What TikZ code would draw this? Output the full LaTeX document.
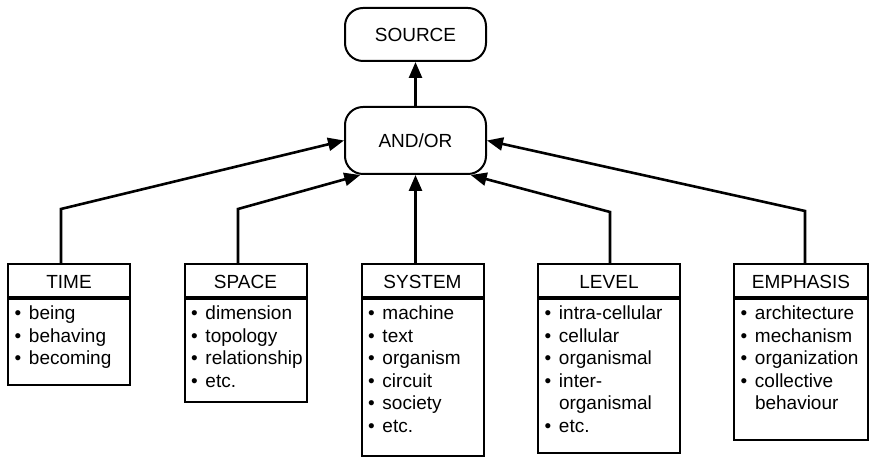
\documentclass[tikz,border=0pt]{standalone}
\usepackage{fontspec}
\setmainfont{Liberation Sans}
\usetikzlibrary{positioning, arrows.meta}

%Aufzählungspunkt mit hängendem Einzug
\newcommand{\punkt}[1]{\hyphenpenalty=10000\relax\hangindent=7.15pt\hangafter=1\noindent\makebox[7.15pt][l]{\textbullet}#1\par}

\begin{document}
\begin{tikzpicture}
	[
	x=0.5pt, y=-0.5pt, font=\fontsize{9.5pt}{11.25pt}\selectfont, >={Triangle[length=8pt, width=6.5pt]},
	%Voreinstellungen für Kästen und Pfeile
	oval/.style={draw, line width=1pt, rounded corners=9pt, minimum width=70.5pt, inner sep=0pt},
	kopf/.style={draw, line width=1pt, minimum height=16.5pt, inner sep=0pt, text height=8.3pt, text depth=0pt},
	liste/.style={draw, line width=1pt, inner xsep=3.35pt, inner ysep=2.6pt, align=left, text height=7.9pt},
	pfeil/.style={->, line width=1.3pt}
	]
	\useasboundingbox (0,0) rectangle (869,458);
	%Oben
	\node[oval, minimum height=26.5pt] (source) at (415.5,34.5) {SOURCE};
	\node[oval, minimum height=33.5pt] (andor) at (415.5,140.5) {AND/OR};
	%Kästen unten
	\node[kopf, minimum width=61pt] (timehead) at (69,280.5) {TIME};
	\node[liste, text width=54.3pt, text depth=29.9pt, below=0pt of timehead] (timebody)
		{\punkt{being}\punkt{behaving}\punkt{becoming}};
	\node[kopf, minimum width=61pt] (spacehead) at (245.5,280.5) {SPACE};
	\node[liste, text width=54.3pt, text depth=38.4pt, below=0pt of spacehead] (spacebody)
		{\punkt{dimension}\punkt{topology}\punkt{relationship}\punkt{etc.}};
	\node[kopf, minimum width=61pt] (systemhead) at (422.5,280.5) {SYSTEM};
	\node[liste, text width=54.3pt, text depth=65.4pt, below=0pt of systemhead] (systembody)
		{\punkt{machine}\punkt{text}\punkt{organism}\punkt{circuit}\punkt{society}\punkt{etc.}};
	\node[kopf, minimum width=71pt] (levelhead) at (609,280.5) {LEVEL};
	\node[liste, text width=64.3pt, text depth=63.9pt, below=0pt of levelhead] (levelbody)
		{\punkt{intra-cellular}\punkt{cellular}\punkt{organismal}\punkt{inter-\break organismal}\punkt{etc.}};
	\node[kopf, minimum width=67pt] (emphasishead) at (801,280.5) {EMPHASIS};
	\node[liste, text width=60.3pt, text depth=57.4pt, below=0pt of emphasishead] (emphasisbody)
		{\punkt{architecture}\punkt{mechanism}\punkt{organization}\punkt{collective\break behaviour}};
	%Verbindungen
	\coordinate (timeknick) at (61,209);
	\coordinate (spaceknick) at (238,209);
	\coordinate (levelknick) at (610,212);
	\coordinate (emphasisknick) at (805,211);
	\draw[pfeil] (andor.north) -- (source.south);
	\draw[pfeil] (timeknick |- timehead.north) -- (timeknick) -- (andor.west);
	\draw[pfeil] (spaceknick |- spacehead.north) -- (spaceknick) -- (andor.-148);
	\draw[pfeil] (andor.south |- systemhead.north) -- (andor.south);
	\draw[pfeil] (levelknick |- levelhead.north) -- (levelknick) -- (andor.-32);
	\draw[pfeil] (emphasisknick |- emphasishead.north) -- (emphasisknick) -- (andor.east);
\end{tikzpicture}
\end{document}
